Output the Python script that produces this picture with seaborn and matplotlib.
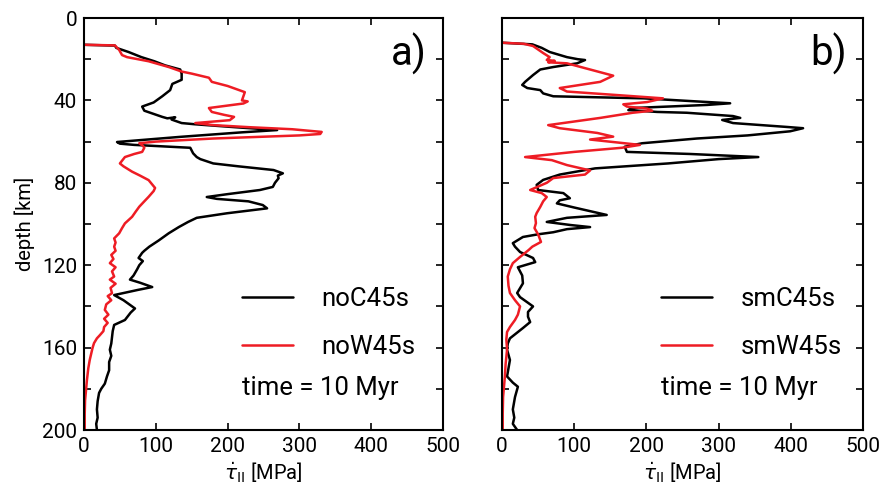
import matplotlib
matplotlib.use('Agg')
import matplotlib.pyplot as plt
import seaborn as sns
import pandas as pd
from matplotlib.ticker import MultipleLocator

# ---------------- data (depth in km, stress in MPa) ----------------
a_black_depth = [13.0, 13.4, 14.5, 16.5, 19, 21, 23, 25, 27, 30, 32, 35, 38, 41, 43, 45, 48, 48.7, 48.2, 49.3,
                 51, 51.6, 53, 54.4, 55.5, 57.7, 60.2, 61.0, 61.6, 63, 65.7, 67.5, 68.5, 70.6, 72, 73.8, 75.4,
                 76.5, 77.8, 80, 82, 83.5, 85.5, 86.9, 87.8, 89, 90.8, 92.4, 94.8, 97, 99, 101.5, 104.5, 106,
                 108, 111, 113, 114, 116.5, 118, 120, 122, 125, 127, 128.5, 130.6, 132, 134.5, 137, 141, 143,
                 146.6, 149, 152, 155, 158, 161, 164, 167, 171, 174, 177.5, 180, 182, 186, 190, 194, 197, 200]
a_black_val = [0, 43, 45, 62, 80, 98, 113, 134, 136, 136, 123, 120, 109, 97, 81, 84, 109, 116, 127, 122,
               136, 155, 210, 269, 220, 134, 46, 50, 70, 148, 152, 157, 162, 180, 215, 264, 277,
               270, 271, 266, 263, 245, 200, 171, 185, 229, 249, 255, 199, 157, 145, 132, 118, 112,
               104, 91, 84, 81, 76, 82, 77, 74, 69, 64, 78, 95, 75, 42, 55, 71, 65,
               57, 42, 40, 39, 38, 36, 38, 35, 35, 32, 29, 24, 21, 19, 18, 19, 17, 18]

a_red_depth = [13.0, 13.3, 15.5, 18, 19, 21, 23.8, 26, 27, 29, 30, 31, 33, 35, 36, 38, 40, 40.5, 41.5, 43.7,
               45.6, 47, 48, 49.6, 51, 52, 53, 54, 55.3, 56.3, 57, 58.5, 60, 60.8, 62, 63, 65, 66, 67.5,
               70.6, 72, 74.6, 76.5, 78.7, 82.5, 84, 86.8, 89, 91.6, 94, 96.5, 99.7, 102, 104.5, 107, 109,
               111, 113, 115, 117, 119, 121, 123, 125.5, 127, 129, 131, 133.6, 135, 137, 139, 141.7, 144,
               146, 148, 150, 152, 154, 155.5, 157.8, 160, 163, 166, 170, 176, 180, 185.6, 192, 200]
a_red_val = [0, 43, 49, 53, 60, 90, 118, 136, 150, 174, 176, 178, 200, 216, 224, 222, 220, 228, 222, 174,
             178, 195, 209, 203, 155, 180, 230, 290, 331, 329, 300, 180, 100, 77, 82, 84, 81, 70, 57,
             50, 55, 67, 78, 90, 99, 97, 90, 84, 77, 72, 67, 57, 53, 49, 42, 44,
             42, 44, 38, 41, 36, 44, 39, 42, 36, 44, 37, 39, 33, 38, 31, 29, 34,
             28, 33, 28, 27, 22, 18, 14, 12, 10, 8, 6, 4, 3, 1.5, 1, 1]

b_black_depth = [12.0, 12.8, 14.5, 16.5, 19, 20, 20.4, 22, 23.8, 25, 27.7, 31, 32.5, 34, 35, 36.6, 38, 39,
                 40.5, 41.4, 42.2, 43.7, 44.7, 45.6, 46, 47.6, 48.5, 49.5, 51, 52.9, 53.5, 55, 57, 58.5,
                 60.8, 62.5, 65, 66, 67.5, 68.5, 70.6, 73, 74.7, 76, 78.6, 81, 83.5, 85, 87.5, 88.5, 90,
                 92, 94, 95.6, 97, 99, 100.5, 101.5, 102.5, 104, 105, 106.3, 109.3, 111, 113.6, 116.5,
                 118.5, 121, 125, 128.8, 133.5, 135.5, 140, 142.7, 145, 147.6, 150.5, 155.5, 158, 161, 166,
                 170, 174, 177, 179, 184, 190, 194, 197, 200]
b_black_val = [0, 42, 55, 66, 90, 105, 115, 104, 71, 53, 43, 32, 28, 35, 53, 57, 71, 196,
               270, 316, 284, 181, 175, 215, 256, 320, 330, 305, 320, 395, 417, 399, 340, 270,
               194, 170, 173, 260, 355, 300, 230, 129, 101, 80, 57, 48, 50, 85, 94, 80, 76,
               100, 125, 145, 90, 62, 95, 122, 90, 71, 50, 29, 15, 18, 25, 43,
               46, 22, 28, 29, 21, 25, 43, 36, 36, 39, 29, 11, 8, 7, 11,
               9, 7, 15, 22, 18, 15, 17, 15, 21]

b_red_depth = [12.0, 12.5, 13.6, 17, 19, 20.4, 20.8, 21.5, 22, 25, 28, 31, 34, 35.7, 37.4, 39, 40.8, 41.9,
               43, 44, 45, 46, 48.5, 52, 53.5, 55.8, 57.6, 59, 61.6, 63, 65, 67.5, 69, 71.4, 74, 76,
               77.7, 80, 83.5, 85, 86.9, 89, 91.7, 94.7, 96.5, 99.6, 102, 105, 108.7, 111, 112.6, 116,
               119, 122, 125.5, 130, 133.5, 137, 140, 144, 146.6, 150, 152.4, 156, 161, 168, 174, 184,
               192, 200]
b_red_val = [0, 30, 43, 57, 66, 62, 73, 64, 90, 122, 154, 136, 80, 90, 159, 223, 201, 168,
             173, 201, 208, 181, 136, 64, 80, 132, 154, 122, 191, 166, 100, 32, 69, 90, 122, 115,
             71, 62, 39, 55, 62, 57, 53, 48, 46, 47, 45, 50, 54, 42, 37, 25,
             15, 11, 8, 9, 11, 18, 25, 22, 18, 11, 7, 6, 7, 5, 4, 1.5,
             1, 1]

series_a = ['noC45s', 'noW45s']
series_b = ['smC45s', 'smW45s']
colors = ['black', '#ee1c24']
x_ticks = [0, 100, 200, 300, 400, 500]
y_ticks = [0, 40, 80, 120, 160, 200]


def frame(d1, v1, d2, v2, names):
    rows = []
    for d, v in zip(d1, v1):
        rows.append((names[0], d, v))
    for d, v in zip(d2, v2):
        rows.append((names[1], d, v))
    return pd.DataFrame(rows, columns=['run', 'depth', 'stress'])


df_a = frame(a_black_depth, a_black_val, a_red_depth, a_red_val, series_a)
df_b = frame(b_black_depth, b_black_val, b_red_depth, b_red_val, series_b)

sns.set_style('ticks')
plt.rcParams['font.family'] = ['Roboto', 'DejaVu Sans']
plt.rcParams['mathtext.fontset'] = 'dejavusans'
for k in ['text.color', 'axes.labelcolor', 'xtick.color', 'ytick.color']:
    plt.rcParams[k] = 'black'

fig = plt.figure(figsize=(8.85, 4.87), dpi=100)
W, H = 885, 487
axA = fig.add_axes([84 / W, (H - 430) / H, 359 / W, 412 / H])
axB = fig.add_axes([502 / W, (H - 430) / H, 361 / W, 412 / H])

legend_font = {'family': ['Roboto', 'DejaVu Sans'], 'size': 18.5}

for ax, df, names, tag, showy in [(axA, df_a, series_a, 'a)', True), (axB, df_b, series_b, 'b)', False)]:
    sns.lineplot(data=df, x='stress', y='depth', hue='run', hue_order=names,
                 palette=dict(zip(names, colors)), sort=False, estimator=None,
                 orient='y', lw=1.8, ax=ax)
    ax.set_xlim(0, 500)
    ax.set_ylim(200, 0)
    ax.set_xticks(x_ticks)
    ax.set_yticks(y_ticks)
    ax.yaxis.set_minor_locator(MultipleLocator(20))
    ax.tick_params(which='both', direction='in', top=True, right=True, length=5, width=1.2,
                   labelsize=15, pad=5)
    if not showy:
        ax.tick_params(labelleft=False)
        ax.set_ylabel('')
    else:
        ax.set_ylabel('depth [km]', fontsize=14.5, labelpad=5)
    ax.set_xlabel(r'$\dot{\tau}_{\mathrm{II}}$ [MPa]', fontsize=14.5, labelpad=3)
    for s in ax.spines.values():
        s.set_linewidth(1.5)
        s.set_color('black')
    handles, labels = ax.get_legend_handles_labels()
    ax.legend(handles, labels, loc='center left', bbox_to_anchor=(0.44, 0.26),
              frameon=False, prop=legend_font, handlelength=2.0, handletextpad=1.1,
              labelspacing=0.95, borderpad=0, borderaxespad=0)
    ax.text(0.44, 0.102, 'time = 10 Myr', transform=ax.transAxes, ha='left', va='center',
            fontdict=legend_font)
    ax.text(0.955, 0.913, tag, transform=ax.transAxes, ha='right', va='center',
            family=['Roboto', 'DejaVu Sans'], fontsize=29)

fig.savefig('out.png', dpi=100)
